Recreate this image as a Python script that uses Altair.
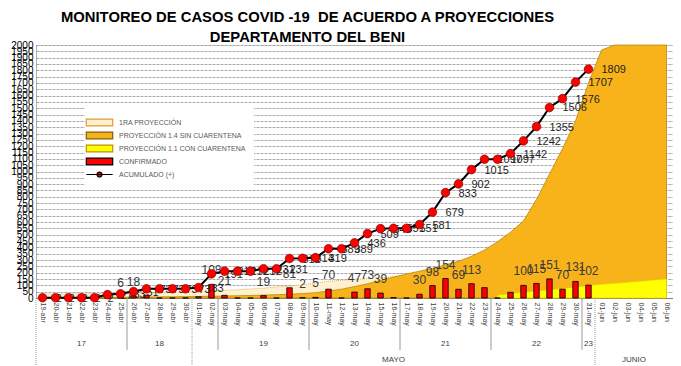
import altair as alt
import pandas as pd

fechas = [
    "19-abr", "20-abr", "21-abr", "22-abr", "23-abr", "24-abr", "25-abr", "26-abr",
    "27-abr", "28-abr", "29-abr", "30-abr",
    "01-may", "02-may", "03-may", "04-may", "05-may", "06-may", "07-may", "08-may",
    "09-may", "10-may", "11-may", "12-may", "13-may", "14-may", "15-may", "16-may",
    "17-may", "18-may", "19-may", "20-may", "21-may", "22-may", "23-may", "24-may",
    "25-may", "26-may", "27-may", "28-may", "29-may", "30-may", "31-may",
    "01-jun", "02-jun", "03-jun", "04-jun", "05-jun", "06-jun",
]

# observed series (19-abr .. 31-may)
confirmado = [0, 0, 0, 0, 0, 25, 6, 18, 22, 0, 0, 0,
              10, 108, 21, 0, 0, 19, 0, 81, 2, 5, 70, 0, 47, 73, 39, 3, 0, 30,
              98, 154, 69, 113, 82, 0, 45, 100, 115, 151, 70, 131, 102]
etiqueta_confirmado = ["", "", "", "", "", "", "6", "18", "", "", "", "",
                       "", "108", "21", "", "", "19", "", "81", "2", "5", "70", "", "47", "73", "39", "", "", "30",
                       "98", "154", "69", "113", "", "", "", "100", "115", "151", "70", "131", "102"]
acumulado = [2, 2, 2, 2, 2, 27, 33, 51, 73, 73, 73, 73,
             83, 191, 212, 212, 212, 231, 231, 312, 314, 319, 389, 389, 436, 509, 548, 551, 551, 581,
             679, 833, 902, 1015, 1097, 1097, 1142, 1242, 1355, 1506, 1576, 1707, 1809]

# projections (19-abr .. 06-jun)
primera_proyeccion = [30, 31, 32, 33, 34, 36, 38, 40, 42, 44, 47, 50,
                      53, 56, 60, 65, 71, 78, 86, 95, 105, 118, 133, 140, 147, 153, 160, 170, 180, 192,
                      205, 218, 232, 247, 262, 278, 294, 311, 328, 346, 364, 383, 402,
                      422, 442, 463, 484, 506, 528]
proy_sin_cuarentena = [3, 3, 4, 4, 5, 5, 6, 7, 8, 9, 10, 11,
                       12, 14, 16, 18, 20, 23, 26, 30, 35, 42, 55, 70, 90, 112, 140, 165, 190, 212,
                       235, 262, 290, 330, 380, 445, 520, 610, 780, 980, 1180, 1400, 1700,
                       1960, 2000, 2000, 2000, 2000, 2000]
proy_con_cuarentena = [None] * 35 + [22, 35, 45, 55, 65, 75, 85, 98, 108, 116, 125, 133, 142, 150]

semana_fecha = ["22-abr", "28-abr", "06-may", "13-may", "20-may", "27-may", "31-may"]
semana_texto = ["17", "18", "19", "20", "21", "22", "23"]
sep_semana = ["26-abr", "03-may", "10-may", "17-may", "24-may", "31-may"]
sep_mes = ["19-abr", "01-may", "01-jun"]

series = ["1RA PROYECCIÓN", "PROYECCIÓN 1.4 SIN CUARENTENA", "PROYECCIÓN 1.1 CON CUARENTENA",
          "CONFIRMADO", "ACUMULADO (+)"]
colores = ["#FFF1CF", "#F8B31B", "#FFFF00", "#FF0000", "#FF0000"]

titulo_1 = "MONITOREO DE CASOS COVID -19\u00a0 DE ACUERDO A PROYECCIONES"
titulo_2 = "DEPARTAMENTO DEL BENI" + "\u00a0" * 7

W, H = 637, 253

df_proj = pd.DataFrame({
    "fecha": fechas,
    "primera": primera_proyeccion,
    "sin": proy_sin_cuarentena,
    "con": proy_con_cuarentena,
})
n_obs = len(acumulado)
df_obs = pd.DataFrame({
    "fecha": fechas[:n_obs],
    "confirmado": confirmado,
    "etiqueta": etiqueta_confirmado,
    "acumulado": acumulado,
})

xscale = alt.Scale(domain=fechas, paddingInner=0, paddingOuter=0)
xaxis = alt.Axis(title=None, labelAngle=90, labelFontSize=7, labelFont="Liberation Sans",
                 labelColor="#404040", ticks=False, domainColor="#808080", labelPadding=4,
                 grid=False, labelOverlap=False)
X = alt.X("fecha:N", scale=xscale, axis=xaxis, sort=fechas)

yscale = alt.Scale(domain=[0, 2000], nice=False, zero=True)
yaxis = alt.Axis(title=None, values=list(range(0, 2001, 50)), format="d", labelFontSize=10,
                 labelFont="Liberation Sans", labelColor="#000000", ticks=False,
                 labelPadding=3, labelOverlap=False, domainColor="#808080", domainDash=[1, 1],
                 grid=True, gridColor="#a8a8a8", gridDash=[3, 1], gridWidth=1)

shape_expr = ("datum.value === 'ACUMULADO (+)' ? "
              "'M-2.4,0H2.4M-0.45,0A0.45,0.45,0,1,1,0.45,0A0.45,0.45,0,1,1,-0.45,0' : "
              "'M-2.4,-0.6H2.4V0.6H-2.4Z'")
stroke_expr = ("datum.value === '1RA PROYECCIÓN' ? '#E39A2D' : "
               "datum.value === 'PROYECCIÓN 1.4 SIN CUARENTENA' ? '#7F6000' : "
               "datum.value === 'PROYECCIÓN 1.1 CON CUARENTENA' ? '#BF9000' : '#000000'")
legend = alt.Legend(
    title=None, orient="none", legendX=49, legendY=63,
    symbolSize=121, labelFontSize=7, labelFont="Liberation Sans", labelColor="#595959",
    labelOffset=13, rowPadding=0, padding=8, fillColor="white",
    symbolType={"expr": shape_expr},
    symbolStrokeColor={"expr": stroke_expr},
    symbolStrokeWidth=1.2, symbolOpacity=1,
)
fill_scale = alt.Scale(domain=series, range=colores)


def F():
    return alt.Fill("serie:N", scale=fill_scale, legend=legend, sort=series)


base_proj = alt.Chart(df_proj)

area_primera = base_proj.mark_area(stroke="#E39A2D", strokeWidth=0.8, strokeDash=[1, 1], opacity=1).encode(
    x=X, y=alt.Y("primera:Q", scale=yscale, axis=yaxis), fill=F()
).transform_calculate(serie="'1RA PROYECCIÓN'")

area_sin = base_proj.mark_area(stroke="#B07C00", strokeWidth=0.7, opacity=1).encode(
    x=X, y=alt.Y("sin:Q", scale=yscale, axis=yaxis), fill=F()
).transform_calculate(serie="'PROYECCIÓN 1.4 SIN CUARENTENA'")

area_con = base_proj.mark_area(stroke="#E0D000", strokeWidth=0.6, opacity=1).encode(
    x=X, y=alt.Y("con:Q", scale=yscale, axis=yaxis), fill=F()
).transform_calculate(serie="'PROYECCIÓN 1.1 CON CUARENTENA'")

base_obs = alt.Chart(df_obs)

barras = base_obs.mark_bar(width=alt.RelativeBandSize(0.42), stroke="#000000", strokeWidth=0.8,
                           opacity=1).encode(
    x=X, y=alt.Y("confirmado:Q", scale=yscale, axis=yaxis), fill=F()
).transform_calculate(serie="'CONFIRMADO'")

etiquetas_barras = base_obs.mark_text(baseline="bottom", dy=-7, fontSize=12, font="Liberation Sans",
                                      color="#3a3a3a").encode(
    x=X, y=alt.Y("confirmado:Q", scale=yscale, axis=yaxis), text="etiqueta:N"
)

etiquetas_acum = base_obs.mark_text(align="left", baseline="middle", dx=13, dy=1, fontSize=11,
                                    font="Liberation Sans", color="#1e1e1e").encode(
    x=X, y=alt.Y("acumulado:Q", scale=yscale, axis=yaxis), text=alt.Text("acumulado:Q", format="d")
)

linea = base_obs.mark_line(color="#000000", strokeWidth=2).encode(
    x=X, y=alt.Y("acumulado:Q", scale=yscale, axis=yaxis)
)

puntos = base_obs.mark_point(filled=True, size=75, stroke="#600000", strokeWidth=0.6, opacity=1).encode(
    x=X, y=alt.Y("acumulado:Q", scale=yscale, axis=yaxis), fill=F()
).transform_calculate(serie="'ACUMULADO (+)'")

# category-axis group separators and labels
df_sep_sem = pd.DataFrame({"fecha": sep_semana})
df_sep_mes = pd.DataFrame({"fecha": sep_mes})
Xb = alt.X("fecha:N", scale=xscale, axis=xaxis, sort=fechas, bandPosition=0)

sep1 = alt.Chart(df_sep_sem).mark_rule(color="#9a9a9a", strokeWidth=1).encode(
    x=Xb, y=alt.value(H), y2=alt.value(H + 52)
)
sep2 = alt.Chart(df_sep_mes).mark_rule(color="#9a9a9a", strokeWidth=1, strokeDash=[1, 1]).encode(
    x=Xb, y=alt.value(H), y2=alt.value(H + 70)
)

df_sem = pd.DataFrame({"fecha": semana_fecha, "texto": semana_texto})
txt_sem = alt.Chart(df_sem).mark_text(fontSize=8, font="Liberation Sans", color="#404040").encode(
    x=X, y=alt.value(H + 46), text="texto:N"
)
txt_mayo = alt.Chart(pd.DataFrame({"fecha": ["16-may"], "texto": ["MAYO"]})).mark_text(
    fontSize=8, font="Liberation Sans", color="#404040").encode(
    x=X, y=alt.value(H + 62), text="texto:N"
)
txt_junio = alt.Chart(pd.DataFrame({"fecha": ["04-jun"], "texto": ["JUNIO"]})).mark_text(
    fontSize=8, font="Liberation Sans", color="#404040").encode(
    x=Xb, y=alt.value(H + 62), text="texto:N"
)

chart = alt.layer(
    area_primera, area_sin, area_con, barras, etiquetas_barras, etiquetas_acum, linea, puntos,
    sep1, sep2, txt_sem, txt_mayo, txt_junio
).properties(
    width=W, height=H,
    autosize=alt.AutoSizeParams(type="none"),
    padding={"left": 28, "top": 37, "right": 0, "bottom": 68},
    title=alt.TitleParams(
        text=[titulo_1, titulo_2],
        anchor="middle", frame="group", dx=-47, offset=-5, fontSize=14.8, font="Liberation Sans",
        fontWeight="bold", lineHeight=20, color="#000000",
    ),
).configure_view(stroke="#8a8a8a", strokeDash=[1, 1]).configure(background="white")

chart.save("out.html", embed_options={"renderer": "svg", "actions": False})
